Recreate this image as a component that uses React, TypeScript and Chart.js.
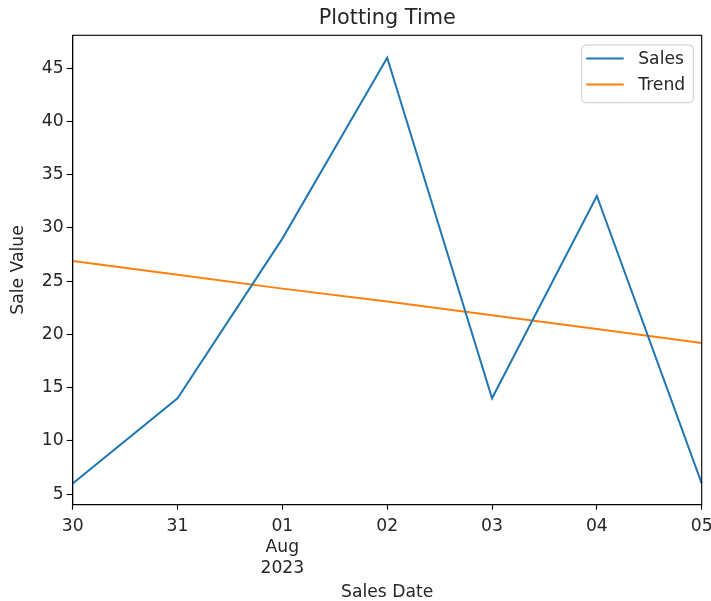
import React, { useEffect, useRef } from "react";
import { Chart, registerables } from "chart.js";

Chart.register(...registerables);

const X_LABELS: (string | string[])[] = ["30", "31", ["01", "Aug", "2023"], "02", "03", "04", "05"];
const SALES = [6, 14, 29, 46, 14, 33, 6];
const TREND = [26.9, 25.6, 24.3, 23.1, 21.8, 20.5, 19.2];
const Y_TICKS = [5, 10, 15, 20, 25, 30, 35, 40, 45];
const Y_MIN = 4;
const Y_MAX = 48.1;
const TITLE = "Plotting Time";

const TEXT = "#262626";
const FONT = "'DejaVu Sans', sans-serif";
const TICK_SIZE = 17.2;
const TITLE_SIZE = 20.8;

const framePlugin = {
  id: "frameLegend",
  afterDraw(chart: any) {
    const { ctx, chartArea } = chart;
    const { left, top, right, bottom } = chartArea;
    ctx.save();
    ctx.strokeStyle = "#000";
    ctx.lineWidth = 1.1;
    ctx.strokeRect(left, top, right - left, bottom - top);

    // title centred over the plot area
    ctx.font = `${TITLE_SIZE}px ${FONT}`;
    ctx.fillStyle = TEXT;
    ctx.textAlign = "center";
    ctx.textBaseline = "middle";
    ctx.fillText(TITLE, (left + right) / 2, top - 16.5);

    // legend
    const bx = right - 120;
    const by = top + 9.7;
    const bw = 111.6;
    const bh = 57.7;
    const r = 4;
    ctx.beginPath();
    ctx.moveTo(bx + r, by);
    ctx.lineTo(bx + bw - r, by);
    ctx.quadraticCurveTo(bx + bw, by, bx + bw, by + r);
    ctx.lineTo(bx + bw, by + bh - r);
    ctx.quadraticCurveTo(bx + bw, by + bh, bx + bw - r, by + bh);
    ctx.lineTo(bx + r, by + bh);
    ctx.quadraticCurveTo(bx, by + bh, bx, by + bh - r);
    ctx.lineTo(bx, by + r);
    ctx.quadraticCurveTo(bx, by, bx + r, by);
    ctx.closePath();
    ctx.fillStyle = "rgba(255,255,255,0.8)";
    ctx.fill();
    ctx.strokeStyle = "#cccccc";
    ctx.lineWidth = 1;
    ctx.stroke();

    const items = chart.data.datasets.map((d: any) => ({ label: d.label, color: d.borderColor }));
    ctx.font = `${TICK_SIZE}px ${FONT}`;
    ctx.textBaseline = "middle";
    ctx.textAlign = "left";
    items.forEach((it: any, i: number) => {
      const y = by + 13.5 + i * 26;
      ctx.strokeStyle = it.color;
      ctx.lineWidth = 2;
      ctx.beginPath();
      ctx.moveTo(bx + 4.5, y);
      ctx.lineTo(bx + 42, y);
      ctx.stroke();
      ctx.fillStyle = TEXT;
      ctx.fillText(it.label, bx + 56.5, y + 1);
    });
    ctx.restore();
  },
};

export default function App() {
  const ref = useRef<HTMLCanvasElement | null>(null);

  useEffect(() => {
    if (!ref.current) return;
    const chart = new Chart(ref.current, {
      type: "line",
      data: {
        labels: X_LABELS as any,
        datasets: [
          {
            label: "Sales",
            data: SALES,
            borderColor: "#1f77b4",
            backgroundColor: "#1f77b4",
            borderWidth: 2,
            pointRadius: 0,
            tension: 0,
          },
          {
            label: "Trend",
            data: TREND,
            borderColor: "#ff7f0e",
            backgroundColor: "#ff7f0e",
            borderWidth: 2,
            pointRadius: 0,
            tension: 0,
          },
        ],
      },
      options: {
        animation: false,
        responsive: true,
        maintainAspectRatio: false,
        layout: { padding: { left: 0, right: 9.3, top: 35.3, bottom: 0 } },
        plugins: {
          legend: { display: false },
          tooltip: { enabled: false },
          title: { display: false },
        },
        scales: {
          x: {
            type: "category",
            offset: false,
            grid: { drawOnChartArea: false, drawTicks: true, tickLength: 5, tickColor: "#000", tickWidth: 1.1 },
            border: { color: "#000", width: 1.1 },
            ticks: {
              color: TEXT,
              font: { family: FONT, size: TICK_SIZE, lineHeight: 1.2 },
              padding: 7,
              maxRotation: 0,
              autoSkip: false,
            },
            title: {
              display: true,
              text: "Sales Date",
              color: TEXT,
              font: { family: FONT, size: TICK_SIZE, lineHeight: 1.2 },
              padding: { top: 0, bottom: -2 },
            },
            afterFit(scale: any) {
              scale.height = 96.3;
              scale.paddingLeft = 0;
              scale.paddingRight = 0;
            },
          },
          y: {
            type: "linear",
            min: Y_MIN,
            max: Y_MAX,
            grid: { drawOnChartArea: false, drawTicks: true, tickLength: 6, tickColor: "#000", tickWidth: 1.1 },
            border: { color: "#000", width: 1.1 },
            ticks: {
              color: TEXT,
              font: { family: FONT, size: TICK_SIZE },
              padding: 3,
            },
            afterBuildTicks(scale: any) {
              scale.ticks = Y_TICKS.map((v) => ({ value: v }));
            },
            title: {
              display: true,
              text: "Sale Value",
              color: TEXT,
              font: { family: FONT, size: TICK_SIZE, lineHeight: 1.2 },
              padding: { top: 8, bottom: 0 },
            },
            afterFit(scale: any) {
              scale.width = 72.7;
              scale.paddingTop = 0;
              scale.paddingBottom = 0;
            },
          },
        },
      },
      plugins: [framePlugin],
    });
    return () => chart.destroy();
  }, []);

  return (
    <div style={{ position: "absolute", left: 0, top: 0, width: 711, height: 601, background: "#fff" }}>
      <canvas ref={ref} />
    </div>
  );
}
